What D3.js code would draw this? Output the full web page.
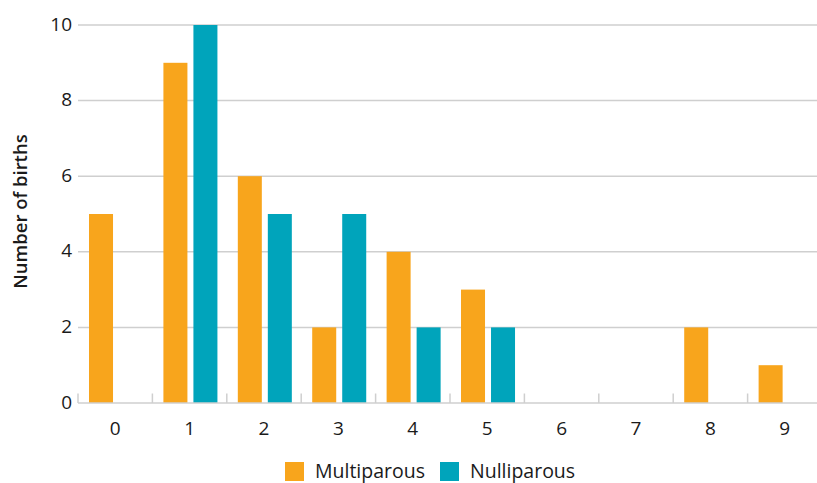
<!DOCTYPE html>
<html>
<head>
<meta charset="utf-8">
<script src="https://cdn.jsdelivr.net/npm/d3@7"></script>
<style>
  html, body { margin: 0; padding: 0; background: #fff; }
  svg { display: block; font-family: "Open Sans", "Noto Sans", sans-serif; }
</style>
</head>
<body>
<svg id="chart" width="817" height="483"></svg>
<script>
// Births by category, split by parity
const categories = ["0", "1", "2", "3", "4", "5", "6", "7", "8", "9"];
const seriesNames = ["Multiparous", "Nulliparous"];
const multiparous = [5, 9, 6, 2, 4, 3, 0, 0, 2, 1];
const nulliparous = [0, 10, 5, 5, 2, 2, 0, 0, 0, 0];
const yTicks = [0, 2, 4, 6, 8, 10];
const colors = ["#F8A51C", "#00A4BB"];

(function draw() {
  const svg = d3.select("#chart");
  const plotLeft = 78, plotRight = 822, plotTop = 25, plotBottom = 403;

  const x = d3.scaleBand().domain(categories).range([plotLeft, plotRight]).padding(0);
  const bw = x.bandwidth();
  const xInner = d3.scaleBand().domain(seriesNames)
    .range([bw * 0.148, bw * 0.874]).paddingInner(0.2).paddingOuter(0);
  const y = d3.scaleLinear().domain([0, 10]).range([plotBottom, plotTop]);

  // Horizontal gridlines
  svg.append("g")
    .selectAll("line")
    .data(yTicks.filter(d => d > 0))
    .join("line")
    .attr("x1", plotLeft).attr("x2", 817)
    .attr("y1", d => y(d)).attr("y2", d => y(d))
    .attr("stroke", "#cfcfcf").attr("stroke-width", 1.5);

  // Y tick labels
  svg.append("g")
    .selectAll("text")
    .data(yTicks)
    .join("text")
    .attr("x", 72).attr("y", d => y(d) + 5.5)
    .attr("text-anchor", "end")
    .attr("font-size", 19).attr("fill", "#1a1a1a")
    .text(d => d);

  // Bars
  const rows = categories.map((c, i) => ({ c, vals: [multiparous[i], nulliparous[i]] }));
  const groups = svg.append("g").selectAll("g")
    .data(rows).join("g")
    .attr("transform", d => `translate(${x(d.c)},0)`);
  groups.selectAll("rect")
    .data(d => d.vals.map((v, k) => ({ name: seriesNames[k], v, k })))
    .join("rect")
    .attr("x", d => xInner(d.name))
    .attr("width", xInner.bandwidth())
    .attr("y", d => y(d.v))
    .attr("height", d => y(0) - y(d.v))
    .attr("fill", d => colors[d.k]);

  // X axis baseline and category separators
  const axis = svg.append("g");
  axis.append("line")
    .attr("x1", plotLeft).attr("x2", 817)
    .attr("y1", plotBottom).attr("y2", plotBottom)
    .attr("stroke", "#cfcfcf").attr("stroke-width", 1.5);
  axis.selectAll("line.sep")
    .data(categories)
    .join("line").attr("class", "sep")
    .attr("x1", d => x(d)).attr("x2", d => x(d))
    .attr("y1", plotBottom).attr("y2", plotBottom - 9.5)
    .attr("stroke", "#cfcfcf").attr("stroke-width", 1.5);
  axis.selectAll("text")
    .data(categories)
    .join("text")
    .attr("x", d => x(d) + bw / 2)
    .attr("y", 435)
    .attr("text-anchor", "middle")
    .attr("font-size", 19).attr("fill", "#1a1a1a")
    .text(d => d);

  // Y axis title
  svg.append("text")
    .attr("transform", `translate(27,211.5) rotate(-90)`)
    .attr("text-anchor", "middle")
    .attr("font-size", 18.5).attr("font-weight", 600).attr("fill", "#1a1a1a")
    .text("Number of births");

  // Legend
  const legendPos = [285, 440];
  const legend = svg.append("g").selectAll("g")
    .data(seriesNames).join("g")
    .attr("transform", (d, i) => `translate(${legendPos[i]},462)`);
  legend.append("rect")
    .attr("width", 19).attr("height", 19)
    .attr("fill", (d, i) => colors[i]);
  legend.append("text")
    .attr("x", 30).attr("y", 15.5)
    .attr("font-size", 19.5).attr("fill", "#1a1a1a")
    .text(d => d);
})();
</script>
</body>
</html>
